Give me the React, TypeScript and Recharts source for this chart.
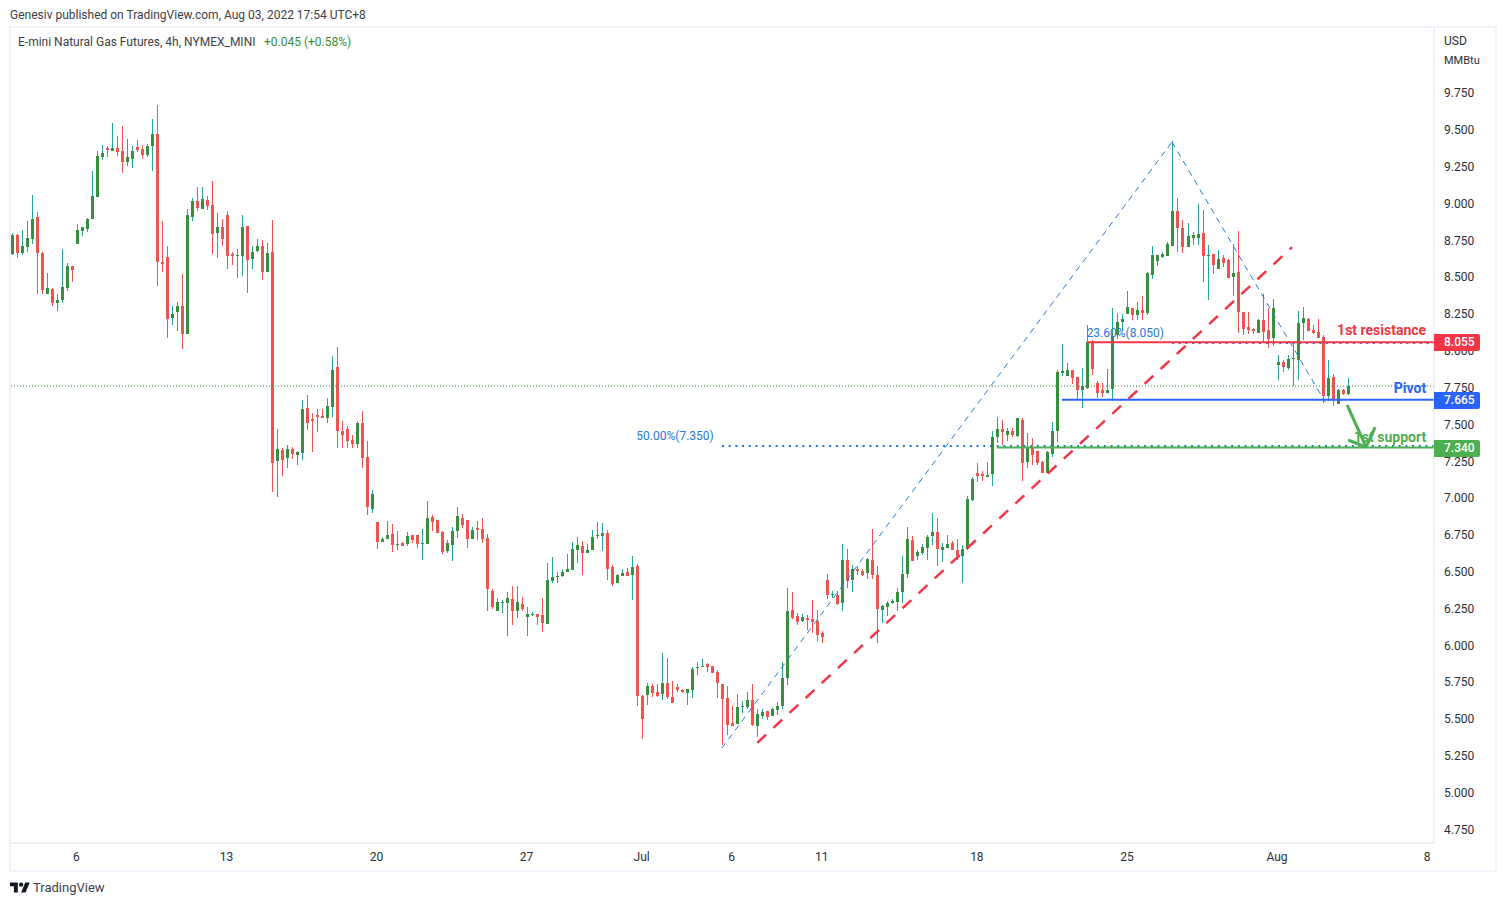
import React from 'react';
import {
  ComposedChart,
  Bar,
  Cell,
  XAxis,
  YAxis,
  ReferenceLine,
  ReferenceDot,
} from 'recharts';

const opens = [
  8.654,8.783,8.660,8.701,8.755,8.905,8.660,8.382,8.416,8.321,
  8.341,8.423,8.572,8.722,8.810,8.823,8.891,9.041,9.312,9.373,
  9.353,9.373,9.353,9.278,9.299,9.380,9.366,9.326,9.387,9.468,
  8.599,8.633,8.219,8.260,8.301,8.110,8.905,9.013,8.959,9.020,
  8.986,8.796,8.837,8.918,8.654,8.640,8.640,8.844,8.620,8.674,
  8.708,8.531,8.667,7.248,7.323,7.269,7.330,7.289,7.303,7.608,
  7.533,7.561,7.554,7.540,7.615,7.886,7.452,7.466,7.391,7.364,
  7.506,7.275,6.922,6.834,6.698,6.719,6.753,6.678,6.692,6.685,
  6.746,6.746,6.685,6.685,6.868,6.848,6.766,6.637,6.678,6.773,
  6.861,6.847,6.718,6.793,6.786,6.725,6.365,6.230,6.284,6.284,
  6.311,6.230,6.277,6.189,6.202,6.209,6.202,6.141,6.433,6.460,
  6.467,6.494,6.508,6.644,6.671,6.623,6.644,6.739,6.739,6.759,
  6.528,6.420,6.467,6.494,6.474,6.535,5.652,5.659,5.720,5.680,
  5.666,5.741,5.646,5.714,5.693,5.673,5.693,5.843,5.849,5.870,
  5.856,5.816,5.734,5.639,5.469,5.463,5.578,5.578,5.625,5.449,
  5.517,5.551,5.517,5.558,5.585,5.775,6.236,6.196,6.162,6.182,
  6.175,6.162,6.080,6.440,6.338,6.338,6.284,6.576,6.440,6.515,
  6.499,6.488,6.576,6.474,6.236,6.257,6.284,6.291,6.359,6.481,
  6.712,6.603,6.623,6.657,6.739,6.766,6.644,6.657,6.691,6.644,
  6.603,6.650,6.983,7.166,7.160,7.139,7.160,7.411,7.465,7.424,
  7.452,7.418,7.526,7.241,7.343,7.316,7.241,7.166,7.295,7.452,
  7.845,7.825,7.866,7.818,7.730,7.743,8.056,7.777,7.730,7.709,
  7.737,8.103,8.192,8.246,8.287,8.239,8.273,8.253,8.511,8.606,
  8.633,8.640,8.707,8.945,8.830,8.701,8.762,8.762,8.796,8.640,
  8.653,8.551,8.626,8.612,8.497,8.531,8.259,8.158,8.144,8.117,
  8.205,8.137,8.083,7.900,7.920,7.879,7.940,7.934,8.185,8.212,
  8.137,8.124,8.090,7.689,7.818,7.635,7.730,7.703,
];

const closes = [
  8.783,8.660,8.708,8.762,8.891,8.660,8.409,8.423,8.321,8.341,
  8.430,8.572,8.545,8.817,8.837,8.891,9.047,9.319,9.339,9.360,
  9.373,9.346,9.278,9.312,9.353,9.360,9.326,9.387,9.468,8.599,
  8.586,8.212,8.246,8.301,8.110,8.918,9.013,8.966,9.027,8.979,
  8.789,8.837,8.755,8.640,8.640,8.647,8.837,8.613,8.667,8.708,
  8.531,8.660,7.235,7.330,7.255,7.330,7.296,7.309,7.601,7.506,
  7.520,7.547,7.540,7.622,7.866,7.452,7.425,7.384,7.364,7.506,
  7.269,6.936,7.024,6.698,6.719,6.746,6.678,6.685,6.671,6.739,
  6.712,6.685,6.692,6.861,6.834,6.759,6.631,6.692,6.773,6.874,
  6.813,6.718,6.779,6.779,6.718,6.379,6.257,6.291,6.291,6.318,
  6.230,6.291,6.243,6.209,6.209,6.189,6.148,6.440,6.460,6.467,
  6.494,6.515,6.650,6.678,6.623,6.644,6.732,6.745,6.759,6.515,
  6.413,6.474,6.488,6.467,6.528,5.652,5.496,5.720,5.673,5.652,
  5.741,5.646,5.605,5.693,5.680,5.700,5.836,5.849,5.856,5.849,
  5.809,5.741,5.632,5.456,5.449,5.578,5.585,5.625,5.456,5.530,
  5.544,5.510,5.564,5.585,5.775,6.230,6.182,6.155,6.189,6.169,
  6.155,6.067,6.053,6.338,6.345,6.277,6.576,6.433,6.515,6.501,
  6.474,6.583,6.474,6.243,6.263,6.284,6.297,6.359,6.481,6.718,
  6.569,6.630,6.664,6.732,6.766,6.650,6.664,6.684,6.644,6.603,
  6.650,6.990,7.126,7.146,7.146,7.153,7.411,7.465,7.445,7.452,
  7.424,7.540,7.234,7.343,7.289,7.234,7.166,7.309,7.452,7.852,
  7.859,7.866,7.811,7.730,7.757,8.056,7.872,7.709,7.709,7.730,
  8.096,8.192,8.212,8.293,8.239,8.273,8.253,8.524,8.646,8.646,
  8.653,8.721,8.945,8.830,8.701,8.775,8.782,8.789,8.640,8.646,
  8.578,8.619,8.592,8.490,8.524,8.259,8.144,8.137,8.130,8.205,
  8.124,8.076,8.287,7.920,7.886,7.940,7.947,8.185,8.219,8.130,
  8.117,8.083,7.689,7.811,7.662,7.730,7.703,7.757,
];

const highs = [
  8.794,8.789,8.817,8.878,9.054,8.939,8.667,8.525,8.423,8.382,
  8.688,8.593,8.572,8.857,8.837,8.898,9.217,9.353,9.394,9.387,
  9.543,9.455,9.523,9.434,9.387,9.428,9.394,9.400,9.570,9.665,
  8.878,8.708,8.301,8.328,8.518,8.959,9.034,9.108,9.108,9.047,
  9.149,8.932,8.891,8.946,8.667,8.688,8.918,8.844,8.708,8.755,
  8.749,8.728,8.884,7.466,7.337,7.357,7.343,7.316,7.662,7.696,
  7.574,7.601,7.601,7.676,7.961,8.022,7.520,7.486,7.425,7.520,
  7.588,7.384,7.051,6.834,6.732,6.841,6.821,6.773,6.698,6.766,
  6.746,6.746,6.787,6.977,6.882,6.848,6.773,6.712,6.800,6.936,
  6.888,6.847,6.800,6.841,6.861,6.752,6.379,6.318,6.304,6.359,
  6.399,6.399,6.325,6.257,6.223,6.209,6.318,6.555,6.596,6.494,
  6.515,6.617,6.698,6.732,6.705,6.684,6.779,6.834,6.827,6.779,
  6.542,6.481,6.515,6.521,6.603,6.549,5.659,5.741,5.734,5.734,
  5.944,5.911,5.754,5.734,5.700,5.700,5.849,5.883,5.904,5.877,
  5.856,5.829,5.734,5.720,5.585,5.666,5.619,5.680,5.734,5.564,
  5.564,5.551,5.571,5.612,5.883,6.386,6.359,6.216,6.209,6.202,
  6.304,6.236,6.094,6.481,6.365,6.365,6.684,6.650,6.542,6.535,
  6.515,6.589,6.786,6.535,6.270,6.297,6.311,6.386,6.603,6.800,
  6.739,6.644,6.684,6.745,6.895,6.861,6.691,6.745,6.705,6.718,
  6.678,7.010,7.139,7.234,7.180,7.241,7.452,7.547,7.526,7.472,
  7.472,7.540,7.540,7.438,7.404,7.316,7.248,7.316,7.513,7.866,
  8.042,7.913,7.866,7.818,7.879,8.171,8.069,7.791,7.777,7.872,
  8.287,8.253,8.246,8.402,8.287,8.327,8.368,8.531,8.707,8.646,
  8.667,8.735,9.420,9.033,8.884,8.864,8.803,8.993,8.952,8.714,
  8.653,8.680,8.646,8.619,8.721,8.809,8.259,8.259,8.151,8.212,
  8.382,8.287,8.348,7.967,7.934,7.967,8.056,8.266,8.293,8.219,
  8.171,8.212,8.103,7.934,7.839,7.737,7.737,7.811,
];

const lows = [
  8.647,8.629,8.647,8.667,8.722,8.382,8.382,8.382,8.301,8.267,
  8.321,8.402,8.464,8.722,8.776,8.803,8.891,9.041,9.292,9.312,
  9.353,9.319,9.204,9.251,9.237,9.346,9.299,9.312,9.217,8.436,
  8.531,8.083,8.172,8.131,8.009,8.110,8.878,8.946,8.959,8.952,
  8.654,8.626,8.708,8.552,8.579,8.491,8.504,8.389,8.552,8.667,
  8.477,8.531,7.038,7.004,7.146,7.201,7.262,7.221,7.255,7.459,
  7.309,7.445,7.540,7.506,7.547,7.337,7.337,7.337,7.337,7.337,
  7.201,6.882,6.895,6.651,6.698,6.719,6.631,6.644,6.671,6.671,
  6.692,6.658,6.576,6.685,6.773,6.759,6.617,6.624,6.569,6.725,
  6.793,6.657,6.718,6.712,6.691,6.230,6.243,6.230,6.216,6.060,
  6.134,6.182,6.230,6.060,6.196,6.134,6.087,6.141,6.420,6.420,
  6.460,6.494,6.508,6.555,6.474,6.623,6.644,6.718,6.637,6.440,
  6.399,6.420,6.467,6.467,6.304,5.585,5.361,5.591,5.646,5.646,
  5.625,5.632,5.605,5.680,5.673,5.591,5.639,5.795,5.849,5.816,
  5.809,5.639,5.320,5.388,5.449,5.463,5.537,5.564,5.449,5.374,
  5.496,5.490,5.517,5.524,5.564,5.727,6.175,6.135,6.155,6.101,
  6.080,6.026,6.012,6.311,6.318,6.270,6.230,6.386,6.359,6.474,
  6.467,6.447,6.447,6.012,6.148,6.196,6.277,6.230,6.284,6.454,
  6.569,6.576,6.610,6.576,6.678,6.535,6.562,6.657,6.644,6.576,
  6.420,6.644,6.976,7.105,7.112,7.139,7.078,7.370,7.356,7.384,
  7.411,7.411,7.112,7.200,7.221,7.221,7.166,7.166,7.275,7.377,
  7.825,7.825,7.771,7.662,7.608,7.737,7.832,7.676,7.682,7.709,
  7.655,8.076,8.130,8.246,8.205,8.205,8.205,8.239,8.483,8.572,
  8.626,8.640,8.707,8.667,8.660,8.701,8.714,8.714,8.463,8.341,
  8.517,8.551,8.565,8.490,8.368,8.117,8.103,8.110,8.110,8.117,
  8.056,8.015,8.029,7.798,7.852,7.866,7.757,7.798,8.069,8.130,
  8.110,8.083,7.642,7.655,7.621,7.635,7.696,7.696,
];

// bar number of the first candle of each labelled day
const dayTicks = [13, 43, 73, 103, 126, 144, 162, 193, 223, 253, 283];
const dayLabels = ['6', '13', '20', '27', 'Jul', '6', '11', '18', '25', 'Aug', '8'];
const priceTicks = [
  4.75, 5, 5.25, 5.5, 5.75, 6, 6.25, 6.5, 6.75, 7, 7.25, 7.5, 7.75, 8, 8.25, 8.5, 8.75, 9, 9.25, 9.5, 9.75,
];

const LAST_PRICE = 7.757;

// drawings on the chart: [bar, price] end points
const fibLegs = [
  [[141.85, 5.3], [231.8, 9.414]],
  [[231.8, 9.414], [262.4, 7.65]],
];
const trendLine = [[148.9, 5.335], [255.8, 8.7]];
const arrowLegs = [
  [[266.8, 7.629], [270.6, 7.343]],
  [[267, 7.391], [270.6, 7.343]],
  [[272.4, 7.479], [270.6, 7.343]],
];

const UP_BODY = '#388e3c';
const UP_WICK = '#26a69a';
const DOWN = '#ef5350';
const RED = '#f23645';
const BLUE = '#2962ff';
const GREEN = '#4caf50';
const FIB = '#2979d8';
const FIB_DOT = '#1976d2';
const TEXT = '#2a2e39';
const FONT = 'Roboto, sans-serif';

const rows = opens.map((o, i) => ({
  bar: i,
  wick: [lows[i], highs[i]],
  body: [Math.min(o, closes[i]), Math.max(o, closes[i])],
  up: closes[i] >= o,
}));

const DOMAIN_X: [number, number] = [-0.26, 284.17];

const seg = (s: number[][]) => s.map(([x, y]) => ({ x, y })) as any;

const note = (x: number, y: number, value: string, fill: string, bold = true, size = 14) => (
  <ReferenceDot
    x={x}
    y={y}
    r={0}
    stroke="none"
    fill="none"
    label={{ value, position: 'left', offset: 0, fill, fontSize: size, fontWeight: bold ? 700 : 400, fontFamily: FONT }}
  />
);

const Abs: React.FC<{ x: number; y: number; color?: string; size?: number; children: React.ReactNode }> = ({
  x,
  y,
  color = '#3c4048',
  size = 12,
  children,
}) => (
  <div style={{ position: 'absolute', left: x, top: y, color, fontSize: size, lineHeight: '14px', whiteSpace: 'nowrap' }}>
    {children}
  </div>
);

const PriceTag: React.FC<{ y: number; bg: string; text: string }> = ({ y, bg, text }) => (
  <div
    style={{
      position: 'absolute',
      left: 1434,
      top: y,
      width: 46,
      height: 17,
      background: bg,
      color: '#fff',
      fontSize: 12,
      fontWeight: 500,
      lineHeight: '17px',
      paddingLeft: 10,
      boxSizing: 'border-box',
      borderRadius: '0 2px 2px 0',
    }}
  >
    {text}
  </div>
);

export default function App() {
  return (
    <div style={{ position: 'absolute', left: 0, top: 0, width: 1506, height: 906, background: '#fff', fontFamily: FONT }}>
      <div
        style={{
          position: 'absolute',
          left: 9,
          top: 26,
          width: 1484,
          height: 842,
          border: '2px solid #f0f3fa',
        }}
      />
      <div style={{ position: 'absolute', left: 0, top: 0 }}>
        <ComposedChart
          width={1506}
          height={906}
          data={rows}
          margin={{ top: 28, right: 0, bottom: 36, left: 11 }}
          barGap={0}
        >
          <XAxis
            dataKey="bar"
            type="number"
            domain={DOMAIN_X}
            ticks={dayTicks}
            interval={0}
            allowDataOverflow
            height={27}
            tickLine={false}
            tickSize={0}
            tickMargin={9}
            stroke="#e0e3eb"
            tick={{ fill: TEXT, fontSize: 12, dx: -1 }}
            tickFormatter={(v: number) => dayLabels[dayTicks.indexOf(v)]}
          />
          <XAxis xAxisId="body" dataKey="bar" type="number" domain={DOMAIN_X} allowDataOverflow hide />
          <YAxis
            orientation="right"
            domain={[4.655, 10.188]}
            ticks={priceTicks}
            interval={0}
            allowDataOverflow
            width={72}
            tickLine={false}
            tickSize={0}
            tickMargin={10}
            stroke="#e0e3eb"
            tick={{ fill: TEXT, fontSize: 12, dy: 0.5 }}
            tickFormatter={(v: number) => v.toFixed(3)}
          />
          <ReferenceLine y={LAST_PRICE} stroke={UP_BODY} strokeDasharray="1 2" />
          <Bar dataKey="wick" barSize={1} isAnimationActive={false}>
            {rows.map((r) => (
              <Cell key={r.bar} fill={r.up ? UP_WICK : DOWN} shapeRendering="crispEdges" />
            ))}
          </Bar>
          <Bar dataKey="body" xAxisId="body" barSize={3} isAnimationActive={false}>
            {rows.map((r) => (
              <Cell key={r.bar} fill={r.up ? UP_BODY : DOWN} shapeRendering="crispEdges" />
            ))}
          </Bar>

          {fibLegs.map((s, i) => (
            <ReferenceLine key={i} segment={seg(s)} stroke={FIB} strokeWidth={1} strokeDasharray="6 5" />
          ))}
          <ReferenceLine segment={seg(trendLine)} stroke={RED} strokeWidth={2.5} strokeDasharray="12 10" />

          <ReferenceLine segment={seg([[141.85, 7.35], [284.17, 7.35]])} stroke={FIB_DOT} strokeWidth={2} strokeDasharray="2 4.7" />
          <ReferenceLine segment={seg([[231.8, 8.05], [284.17, 8.05]])} stroke={FIB_DOT} strokeWidth={2} strokeDasharray="2 4.7" />

          <ReferenceLine segment={seg([[215, 8.055], [284.17, 8.055]])} stroke={RED} strokeWidth={2} />
          <ReferenceLine segment={seg([[209.8, 7.665], [284.17, 7.665]])} stroke={BLUE} strokeWidth={2} />
          <ReferenceLine segment={seg([[196.8, 7.34], [284.17, 7.34]])} stroke={GREEN} strokeWidth={2} />

          {arrowLegs.map((s, i) => (
            <ReferenceLine key={i} segment={seg(s)} stroke={GREEN} strokeWidth={3} />
          ))}

          {note(140.2, 7.418, '50.00%(7.350)', FIB, false, 12)}
          {note(230.2, 8.117, '23.60%(8.050)', FIB, false, 12)}
          {note(282.6, 8.138, '1st resistance', RED)}
          {note(282.6, 7.744, 'Pivot', BLUE)}
          {note(282.6, 7.411, '1st support', GREEN)}
        </ComposedChart>
      </div>

      <Abs x={10} y={8}>Genesiv published on TradingView.com, Aug 03, 2022 17:54 UTC+8</Abs>
      <Abs x={18} y={35}>E-mini Natural Gas Futures, 4h, NYMEX_MINI</Abs>
      <Abs x={264} y={35} color={UP_BODY}>+0.045 (+0.58%)</Abs>
      <Abs x={1444} y={34} color={TEXT}>USD</Abs>
      <Abs x={1444} y={54} color={TEXT} size={11}>MMBtu</Abs>

      <PriceTag y={334} bg={RED} text="8.055" />
      <PriceTag y={392} bg={BLUE} text="7.665" />
      <PriceTag y={440} bg={GREEN} text="7.340" />

      <svg style={{ position: 'absolute', left: 10, top: 882 }} width={20} height={13} viewBox="0 0 36 22">
        <path d="M14 18H7V7H0V0h14v18zM28 18h-8l7.5-18h8L28 18z" fill="#131722" />
        <circle cx="20" cy="4" r="4" fill="#131722" />
      </svg>
      <Abs x={33} y={881} size={13}>TradingView</Abs>
    </div>
  );
}
